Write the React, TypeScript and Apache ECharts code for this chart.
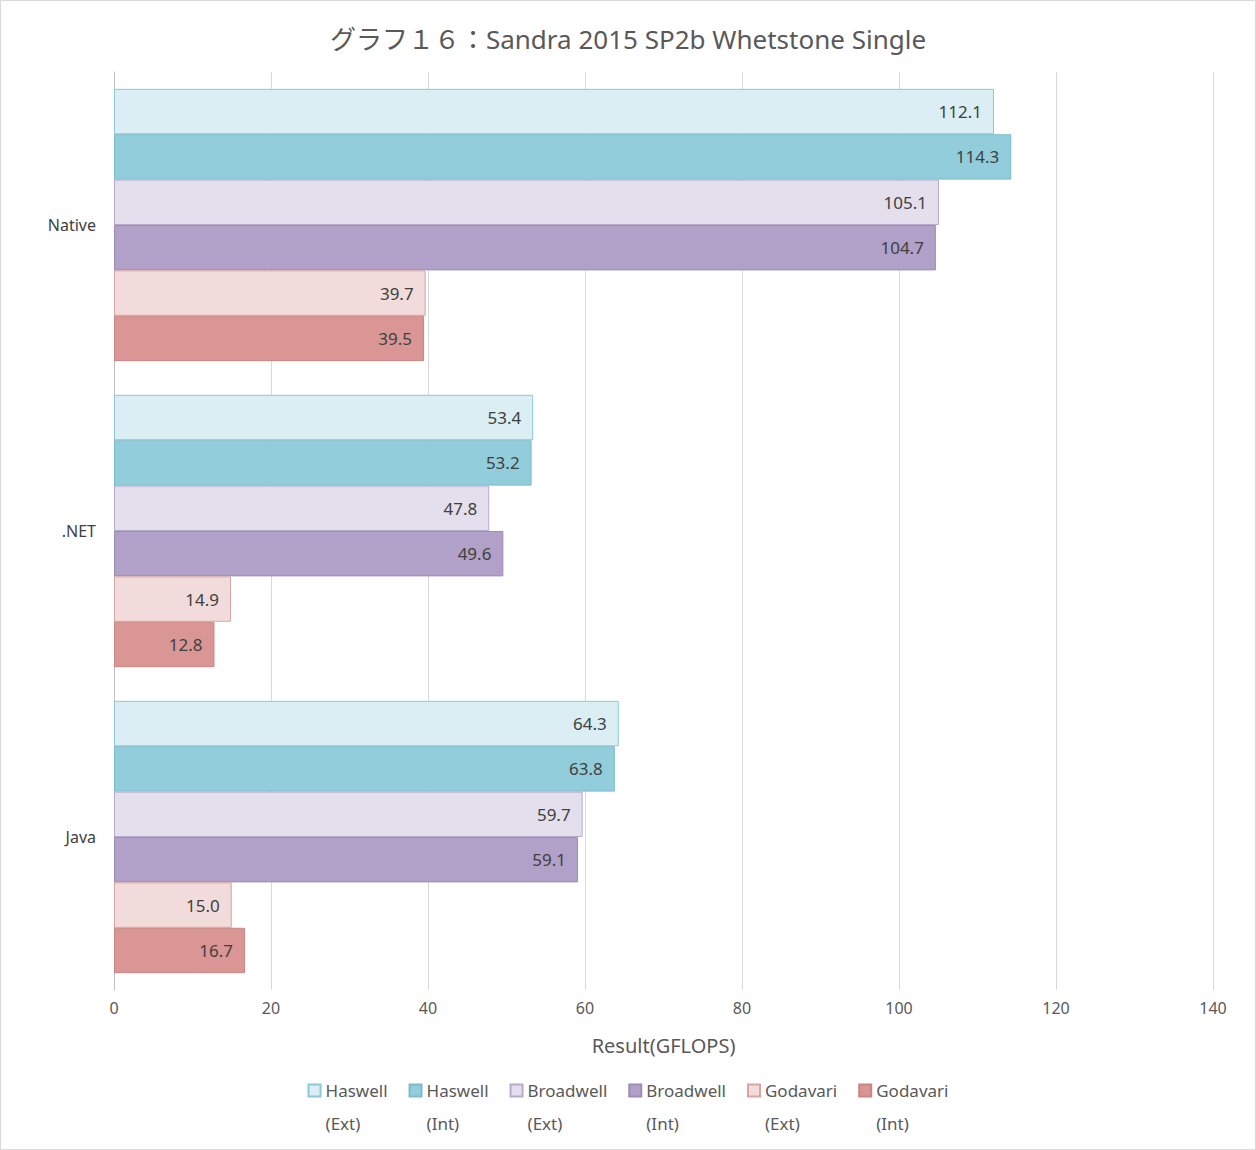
import React, { useEffect, useRef } from "react";
import * as echarts from "echarts";

const categories = ["Native", ".NET", "Java"];
const seriesNames = [
  "Haswell\n(Ext)",
  "Haswell\n(Int)",
  "Broadwell\n(Ext)",
  "Broadwell\n(Int)",
  "Godavari\n(Ext)",
  "Godavari\n(Int)",
];
const haswellExt = [112.1, 53.4, 64.3];
const haswellInt = [114.3, 53.2, 63.8];
const broadwellExt = [105.1, 47.8, 59.7];
const broadwellInt = [104.7, 49.6, 59.1];
const godavariExt = [39.7, 14.9, 15.0];
const godavariInt = [39.5, 12.8, 16.7];
const xTicks = [0, 20, 40, 60, 80, 100, 120, 140];

const fills = ["#DAEEF3", "#92CDDC", "#E4DFEC", "#B1A0C7", "#F2DCDB", "#DA9694"];
const borders = ["#8CC8D8", "#7DBBCC", "#B9AACD", "#9E8CB6", "#DBA3A1", "#C98583"];

const FONT = "'Noto Sans', 'Noto Sans CJK JP', sans-serif";

export default function App() {
  const ref = useRef<HTMLDivElement>(null);
  useEffect(() => {
    document.body.style.margin = "0";
    const chart = echarts.init(ref.current!, null, { renderer: "svg" });
    const data = [haswellExt, haswellInt, broadwellExt, broadwellInt, godavariExt, godavariInt];
    chart.setOption({
      animation: false,
      backgroundColor: "#ffffff",
      textStyle: { fontFamily: FONT },
      title: {
        text: "グラフ１６：Sandra 2015 SP2b Whetstone Single",
        left: "center",
        top: 21,
        textStyle: { fontSize: 26, fontWeight: "normal", color: "#595959", fontFamily: FONT },
      },
      graphic: [
        {
          type: "rect",
          shape: { x: 0.5, y: 0.5, width: 1255, height: 1149 },
          style: { fill: "none", stroke: "#d9d9d9", lineWidth: 1 },
          silent: true,
        },
      ],
      grid: { left: 114, right: 43, top: 72, bottom: 160, containLabel: false },
      xAxis: {
        type: "value",
        min: 0,
        max: 140,
        interval: 20,
        name: "Result(GFLOPS)",
        nameLocation: "middle",
        nameGap: 45,
        nameTextStyle: { fontSize: 20, color: "#595959", fontFamily: FONT },
        axisLine: { show: false },
        axisTick: { show: false },
        axisLabel: {
          fontSize: 16,
          color: "#595959",
          margin: 10,
          formatter: (v: number) => (xTicks.includes(v) ? String(v) : ""),
        },
        splitLine: { show: true, lineStyle: { color: "#d9d9d9", width: 1 } },
      },
      yAxis: {
        type: "category",
        data: categories,
        inverse: true,
        axisLine: { show: true, lineStyle: { color: "#bfbfbf", width: 1 } },
        axisTick: { show: false },
        axisLabel: { fontSize: 16, color: "#404040", margin: 18 },
        splitLine: { show: false },
      },
      legend: {
        left: "center",
        top: 1036,
        icon: "rect",
        itemWidth: 12,
        itemHeight: 12,
        itemGap: 21,
        data: seriesNames,
        formatter: (name: string) => " \n" + name,
        textStyle: {
          fontSize: 17,
          color: "#595959",
          lineHeight: 33,
          fontFamily: FONT,
        },
      },
      series: seriesNames.map((name, i) => ({
        name,
        type: "bar",
        data: data[i],
        barGap: "0%",
        barCategoryGap: "11%",
        itemStyle: { color: fills[i], borderColor: borders[i], borderWidth: 1 },
        label: {
          show: true,
          position: "insideRight",
          distance: 12,
          fontSize: 17,
          color: "#404040",
          fontFamily: FONT,
          formatter: (p: any) => Number(p.value).toFixed(1),
        },
      })),
    });
    return () => chart.dispose();
  }, []);
  return <div ref={ref} style={{ width: 1256, height: 1150 }} />;
}
